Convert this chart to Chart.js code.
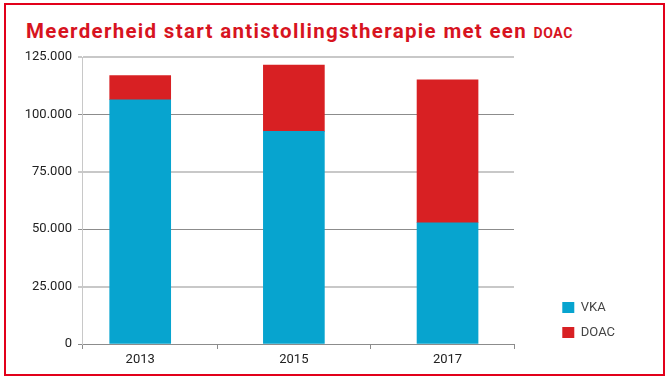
<!DOCTYPE html>
<html>
<head>
<meta charset="utf-8">
<script src="https://cdn.jsdelivr.net/npm/chart.js@4/dist/chart.umd.min.js"></script>
<style>
  html, body { margin: 0; padding: 0; background: #fff; }
  #wrap { position: relative; width: 672px; height: 379px; overflow: hidden; background: #fff; }
  #frame { position: absolute; left: 4px; top: 3px; width: 661px; height: 373px; box-sizing: border-box; border: 2px solid #e2001a; }
  #title { position: absolute; left: 26px; top: 21px; margin: 0; font-family: Roboto, sans-serif; font-weight: 700; font-size: 20.5px; line-height: 20.5px; letter-spacing: 1.31px; color: #d7141f; white-space: nowrap; }
  #title .sc { font-size: 14px; letter-spacing: 0.6px; }
  canvas { position: absolute; left: 0; top: 0; }
</style>
</head>
<body>
<div id="wrap">
  <div id="frame"></div>
  <h1 id="title">Meerderheid start antistollingstherapie met een <span class="sc">DOAC</span></h1>
  <canvas id="c" width="672" height="379"></canvas>
</div>
<script>
// ---- data ----
const categories = ['2013', '2015', '2017'];
const seriesNames = ['VKA', 'DOAC'];
const vka = [106400, 92600, 52800];
const doac = [10500, 28900, 62300];
const yTicks = [0, 25000, 50000, 75000, 100000, 125000];
const yTickLabels = ['0', '25.000', '50.000', '75.000', '100.000', '125.000'];

// ---- chart ----
const years = categories.map(Number);
const X_MIN = 2012.2425, X_MAX = 2017.865;
const PAD_R = 47;
const DARK = '#8c8c8c', LIGHT = '#c8c8c8';

Chart.defaults.font.family = 'Roboto, sans-serif';

const isMajor = v => v % 50000 === 0;

new Chart(document.getElementById('c'), {
  type: 'bar',
  data: {
    datasets: [
      { label: seriesNames[0], data: years.map((yr, i) => ({ x: yr, y: vka[i] })), backgroundColor: '#07a4cf', borderWidth: 0, barThickness: 61 },
      { label: seriesNames[1], data: years.map((yr, i) => ({ x: yr, y: doac[i] })), backgroundColor: '#d82023', borderWidth: 0, barThickness: 61 }
    ]
  },
  options: {
    responsive: false,
    animation: false,
    layout: { padding: { left: 0, top: 57, right: PAD_R, bottom: 5 } },
    plugins: {
      title: { display: false },
      tooltip: { enabled: false },
      legend: {
        position: 'right',
        align: 'start',
        title: { display: true, text: '', font: { size: 10 }, padding: { top: 0, bottom: 220 } },
        labels: { boxWidth: 12, boxHeight: 11, padding: 12, color: '#444', font: { size: 13 } }
      }
    },
    scales: {
      x: {
        type: 'linear',
        stacked: true,
        offset: false,
        min: X_MIN,
        max: X_MAX,
        afterBuildTicks: s => { s.ticks = [X_MIN, 2013, 2014, 2015, 2016, 2017, X_MAX].map(v => ({ value: v })); },
        afterFit: s => { s.height = 30; },
        ticks: {
          autoSkip: false, maxRotation: 0, minRotation: 0, color: '#222', font: { size: 13 }, padding: 3,
          callback: v => { const i = years.indexOf(v); return i >= 0 ? categories[i] : ''; }
        },
        grid: {
          offset: false,
          drawOnChartArea: false, drawTicks: true, tickLength: 5,
          tickColor: ctx => (ctx.tick && years.includes(ctx.tick.value)) ? 'rgba(0,0,0,0)' : DARK
        },
        border: { color: DARK, width: 1 }
      },
      y: {
        stacked: true,
        min: 0,
        max: 125000,
        afterBuildTicks: s => { s.ticks = yTicks.map(v => ({ value: v })); },
        afterFit: s => { s.width = 82; },
        ticks: {
          color: '#222', font: { size: 13 }, padding: 6,
          callback: v => yTickLabels[yTicks.indexOf(v)]
        },
        grid: {
          color: ctx => isMajor(ctx.tick.value) ? DARK : LIGHT,
          tickColor: ctx => isMajor(ctx.tick.value) ? DARK : LIGHT,
          lineWidth: ctx => isMajor(ctx.tick.value) ? 1 : 2,
          tickLength: 4
        },
        border: { color: LIGHT, width: 1 }
      },
      spacer: {
        type: 'linear',
        position: 'right',
        display: true,
        grid: { display: false },
        border: { display: false },
        ticks: { display: false },
        afterFit: s => { s.width = Math.max(0, 672 - PAD_R - s.chart.legend.width - 514); }
      }
    }
  }
});
</script>
</body>
</html>
